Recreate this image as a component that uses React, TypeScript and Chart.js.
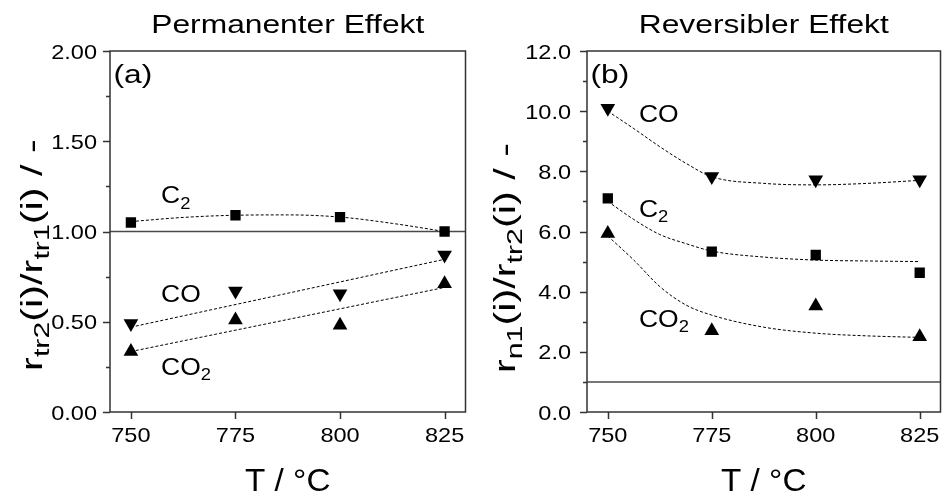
import React, { useEffect, useRef } from "react";
import { Chart, registerables } from "chart.js";

Chart.register(...registerables);

const FONT = '"Liberation Sans", Arial, sans-serif';

// ---- shared x data ----
const temps = [750, 775, 800, 825];
const xTicks = [750, 775, 800, 825];

// ---- (a) Permanenter Effekt ----
const permC2 = [1.05, 1.09, 1.08, 1.0];
const permCO = [0.49, 0.67, 0.655, 0.87];
const permCO2 = [0.335, 0.51, 0.48, 0.71];
const permFitC2T = [750, 762.5, 775, 787.5, 800, 812.5, 825];
const permFitC2 = [1.055, 1.078, 1.09, 1.092, 1.08, 1.045, 1.0];
const permFitLinT = [750, 825];
const permFitCO = [0.47, 0.846];
const permFitCO2 = [0.335, 0.69];
const permYTicks = [0, 0.5, 1.0, 1.5, 2.0];
const permYMinor = [0.25, 0.75, 1.25, 1.75];

// ---- (b) Reversibler Effekt ----
const revCO = [10.1, 7.83, 7.72, 7.72];
const revC2 = [7.1, 5.33, 5.22, 4.63];
const revCO2 = [5.93, 2.7, 3.52, 2.5];
const revFitT = [750, 756.25, 762.5, 768.75, 775, 787.5, 800, 812.5, 825];
const revFitCO = [10.0, 9.42, 8.82, 8.27, 7.82, 7.6, 7.55, 7.6, 7.7];
const revFitC2 = [7.0, 6.4, 5.9, 5.6, 5.35, 5.15, 5.05, 5.02, 5.0];
const revFitCO2 = [5.85, 5.05, 4.17, 3.56, 3.22, 2.82, 2.62, 2.53, 2.48];
const revYTicks = [0, 2, 4, 6, 8, 10, 12];
const revYMinor = [1, 3, 5, 7, 9, 11];

type Part = { t: string; sub?: boolean };

function drawRich(
  ctx: CanvasRenderingContext2D,
  parts: Part[],
  x: number,
  y: number,
  size: number,
  subSize: number,
  align: "left" | "center" | "right",
  stretch: number,
  rotate = false
) {
  const widths = parts.map((p) => {
    ctx.font = `${p.sub ? subSize : size}px ${FONT}`;
    return ctx.measureText(p.t).width;
  });
  const total = widths.reduce((a, b) => a + b, 0);
  ctx.save();
  ctx.translate(x, y);
  if (rotate) ctx.rotate(-Math.PI / 2);
  ctx.scale(stretch, 1);
  let cx = align === "center" ? -total / 2 : align === "right" ? -total : 0;
  ctx.textAlign = "left";
  ctx.textBaseline = "alphabetic";
  parts.forEach((p, i) => {
    ctx.font = `${p.sub ? subSize : size}px ${FONT}`;
    ctx.fillText(p.t, cx, p.sub ? size * 0.23 : 0);
    cx += widths[i];
  });
  ctx.restore();
}

type Label = { x: number; y: number; parts: Part[] };

type PanelCfg = {
  title: string;
  panel: string;
  yTitle: Part[];
  yTitleX: number;
  yTitleY: number;
  yMin: number;
  yMax: number;
  yTicks: number[];
  yMinor: number[];
  decimals: number;
  yLabelGap: number;
  refY: number;
  yAxisWidth: number;
  rightPad: number;
  labels: Label[];
  markers: { data: number[]; style: string; rot: number; r: number }[];
  fits: { t: number[]; v: number[] }[];
};

const SQ = 7.3;
const TRI = 8.5;

const permCfg: PanelCfg = {
  title: "Permanenter Effekt",
  panel: "(a)",
  yTitle: [
    { t: "r" },
    { t: "tr2", sub: true },
    { t: "(i)/r" },
    { t: "tr1", sub: true },
    { t: "(i) / -" },
  ],
  yTitleX: 42,
  yTitleY: 255,
  yMin: 0,
  yMax: 2,
  yTicks: permYTicks,
  yMinor: permYMinor,
  decimals: 2,
  yLabelGap: 13,
  refY: 1,
  yAxisWidth: 110,
  rightPad: 2,
  labels: [
    { x: 757.2, y: 1.156, parts: [{ t: "C" }, { t: "2", sub: true }] },
    { x: 757.2, y: 0.612, parts: [{ t: "CO" }] },
    { x: 757.2, y: 0.206, parts: [{ t: "CO" }, { t: "2", sub: true }] },
  ],
  markers: [
    { data: permC2, style: "rect", rot: 0, r: SQ },
    { data: permCO, style: "triangle", rot: 180, r: TRI },
    { data: permCO2, style: "triangle", rot: 0, r: TRI },
  ],
  fits: [
    { t: permFitC2T, v: permFitC2 },
    { t: permFitLinT, v: permFitCO },
    { t: permFitLinT, v: permFitCO2 },
  ],
};

const revCfg: PanelCfg = {
  title: "Reversibler Effekt",
  panel: "(b)",
  yTitle: [
    { t: "r" },
    { t: "n1", sub: true },
    { t: "(i)/r" },
    { t: "tr2", sub: true },
    { t: "(i) / -" },
  ],
  yTitleX: 41,
  yTitleY: 258,
  yMin: 0,
  yMax: 12,
  yTicks: revYTicks,
  yMinor: revYMinor,
  decimals: 1,
  yLabelGap: 16,
  refY: 1,
  yAxisWidth: 113,
  rightPad: 1,
  labels: [
    { x: 757.5, y: 9.64, parts: [{ t: "CO" }] },
    { x: 757.5, y: 6.49, parts: [{ t: "C" }, { t: "2", sub: true }] },
    { x: 757.5, y: 2.84, parts: [{ t: "CO" }, { t: "2", sub: true }] },
  ],
  markers: [
    { data: revCO, style: "triangle", rot: 180, r: TRI },
    { data: revC2, style: "rect", rot: 0, r: SQ },
    { data: revCO2, style: "triangle", rot: 0, r: TRI },
  ],
  fits: [
    { t: revFitT, v: revFitCO },
    { t: revFitT, v: revFitC2 },
    { t: revFitT, v: revFitCO2 },
  ],
};

function makeChart(canvas: HTMLCanvasElement, cfg: PanelCfg) {
  const datasets: any[] = [];
  cfg.markers.forEach((m) => {
    datasets.push({
      data: temps.map((t, i) => ({ x: t, y: m.data[i] })),
      showLine: false,
      pointStyle: m.style,
      rotation: m.rot,
      pointRadius: m.r,
      pointHoverRadius: m.r,
      backgroundColor: "#000",
      borderColor: "#000",
      borderWidth: 0,
    });
  });
  cfg.fits.forEach((f) => {
    datasets.push({
      data: f.t.map((t, i) => ({ x: t, y: f.v[i] })),
      showLine: true,
      pointRadius: 0,
      borderColor: "#000",
      borderWidth: 1,
      borderDash: [3, 2],
      cubicInterpolationMode: "monotone",
      fill: false,
    });
  });
  datasets.push({
    data: [
      { x: 745, y: cfg.refY },
      { x: 830, y: cfg.refY },
    ],
    showLine: true,
    pointRadius: 0,
    borderColor: "#4a4a4a",
    borderWidth: 1.5,
    fill: false,
  });

  const deco = {
    id: "deco",
    afterDraw(chart: any) {
      const ctx: CanvasRenderingContext2D = chart.ctx;
      const { left, right, top, bottom } = chart.chartArea;
      const xs = chart.scales.x;
      const ys = chart.scales.y;
      ctx.save();
      // frame
      ctx.strokeStyle = "#333";
      ctx.lineWidth = 1.5;
      ctx.strokeRect(left, top, right - left, bottom - top);
      // tick marks
      ctx.beginPath();
      cfg.yTicks.forEach((v) => {
        const py = Math.round(ys.getPixelForValue(v)) + 0.5;
        ctx.moveTo(left, py);
        ctx.lineTo(left - 7, py);
      });
      cfg.yMinor.forEach((v) => {
        const py = Math.round(ys.getPixelForValue(v)) + 0.5;
        ctx.moveTo(left, py);
        ctx.lineTo(left - 4, py);
      });
      xTicks.forEach((v) => {
        const px = Math.round(xs.getPixelForValue(v)) + 0.5;
        ctx.moveTo(px, bottom);
        ctx.lineTo(px, bottom + 7);
      });
      ctx.stroke();

      ctx.fillStyle = "#000";
      // tick labels
      cfg.yTicks.forEach((v) => {
        const py = ys.getPixelForValue(v);
        drawRich(ctx, [{ t: v.toFixed(cfg.decimals) }], left - cfg.yLabelGap, py + 7.5, 21, 14, "right", 1.12);
      });
      xTicks.forEach((v) => {
        const px = xs.getPixelForValue(v);
        drawRich(ctx, [{ t: String(v) }], px, bottom + 29.5, 21, 14, "center", 1.12);
      });
      const cx = (left + right) / 2;
      // title
      drawRich(ctx, [{ t: cfg.title }], cx, 33, 25, 18, "center", 1.27);
      // x title
      drawRich(ctx, [{ t: "T / \u00B0C" }], cx, 491, 32, 22, "center", 1.04);
      // panel label
      drawRich(ctx, [{ t: cfg.panel }], left + 3.5, 83, 26, 18, "left", 1.22);
      // series labels
      cfg.labels.forEach((l) => {
        const px = xs.getPixelForValue(l.x);
        const py = ys.getPixelForValue(l.y);
        drawRich(ctx, l.parts, px, py, 23, 16, "left", 1.15);
      });
      // y title
      drawRich(ctx, cfg.yTitle, cfg.yTitleX, cfg.yTitleY, 30, 22, "center", 1.38, true);
      ctx.restore();
    },
  };

  return new Chart(canvas, {
    type: "scatter",
    data: { datasets },
    plugins: [deco],
    options: {
      animation: false,
      responsive: false,
      devicePixelRatio: 1,
      events: [],
      layout: { padding: { left: 0, right: cfg.rightPad, top: 51, bottom: 0 } },
      plugins: { legend: { display: false }, tooltip: { enabled: false } },
      scales: {
        x: {
          type: "linear",
          min: 745,
          max: 830,
          afterBuildTicks: (s: any) => {
            s.ticks = xTicks.map((v) => ({ value: v }));
          },
          afterFit: (s: any) => {
            s.height = 86;
          },
          grid: { display: false, drawTicks: false },
          border: { display: false },
          ticks: { display: false },
        },
        y: {
          type: "linear",
          min: cfg.yMin,
          max: cfg.yMax,
          afterBuildTicks: (s: any) => {
            s.ticks = cfg.yTicks.map((v) => ({ value: v }));
          },
          afterFit: (s: any) => {
            s.width = cfg.yAxisWidth;
          },
          grid: { display: false, drawTicks: false },
          border: { display: false },
          ticks: { display: false },
        },
      },
    } as any,
  });
}

function Panel({ cfg, left, width }: { cfg: PanelCfg; left: number; width: number }) {
  const ref = useRef<HTMLCanvasElement>(null);
  useEffect(() => {
    const chart = makeChart(ref.current!, cfg);
    return () => chart.destroy();
  }, []);
  return (
    <canvas
      ref={ref}
      width={width}
      height={498}
      style={{ position: "absolute", left, top: 0, width, height: 498 }}
    />
  );
}

export default function App() {
  return (
    <div
      style={{
        position: "fixed",
        left: 0,
        top: 0,
        width: 949,
        height: 498,
        background: "#fff",
        overflow: "hidden",
      }}
    >
      <Panel cfg={permCfg} left={0} width={474} />
      <Panel cfg={revCfg} left={474} width={475} />
    </div>
  );
}
